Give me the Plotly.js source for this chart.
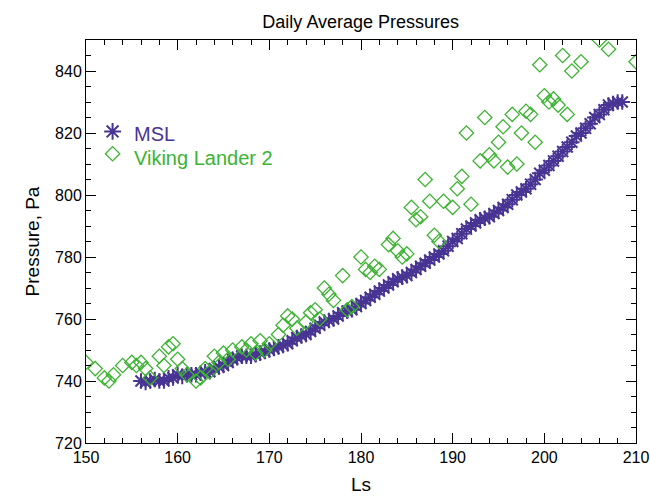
<!DOCTYPE html>
<html>
<head>
<script src="https://cdn.plot.ly/plotly-3.0.1.min.js"></script>
</head>
<body style="margin:0">
<div id="chart" style="width:650px;height:501px"></div>
<script>
var msl_ls = [156,156.5,157,157.5,158,158.5,159,159.5,160,160.5,161,161.5,162,162.5,163,163.5,164,164.5,165,165.5,166,166.5,167,167.5,168,168.5,169,169.5,170,170.5,171,171.5,172,172.5,173,173.5,174,174.5,175,175.5,176,176.5,177,177.5,178,178.5,179,179.5,180,180.5,181,181.5,182,182.5,183,183.5,184,184.5,185,185.5,186,186.5,187,187.5,188,188.5,189,189.5,190,190.5,191,191.5,192,192.5,193,193.5,194,194.5,195,195.5,196,196.5,197,197.5,198,198.5,199,199.5,200,200.5,201,201.5,202,202.5,203,203.5,204,204.5,205,205.5,206,206.5,207,207.5,208,208.5];
var msl_p = [740,739.5,740,740.5,740,740,741,741,742,741.5,742,742,742,742.5,743,743,744,744.5,745,746,747,747.5,748,748,748,748.5,749,749.5,750,750.5,751,751.5,752,753,754,754.5,755,756,757,758,759,759.5,760,761,762,762.5,763,764,765,766,767,768,769,770,771,772,773,773.5,774,775,776,777,778,779,780,781,782,783.5,785,786,787.5,789,790,791,792,792.5,793,794,795,796,797,798.5,800,801,802,803.5,805,807,808,809.5,811,812.5,814,815.5,817,819,820,821.5,823,825,826,827.5,829,829.5,830,830];
var vl2_ls = [150,151,152,152.5,153,154,155,155.5,156,156.5,157,158,158.5,159,159.5,160,160.5,161,162,162.5,163,163.5,164,164.5,165,165.5,166,167,167.5,168,168.5,169,169.5,170,171,171.5,172,172.5,173,174,174.5,175,175.5,176,176.5,177,178,178.5,179,180,180.5,181,181.5,182,183,183.5,184,184.5,185,185.5,186,186.5,187,187.5,188,188.5,189,190,190.5,191,191.5,192,193,193.5,194,194.5,195,195.5,196,196.5,197,197.5,198,198.5,199,199.5,200,200.5,201,201.5,202,202.5,203,204,206,207,210];
var vl2_p = [746,744,741,740,742,745,746,745,746,744,741,748,745,751,752,747,744,742,740,741,744,743,748,746,749,747,750,751,750,752,749,753,750,752,755,758,761,760,757,759,762,763,760,770,768,766,774,763,764,780,776,775,777,776,784,786,782,780,781,796,792,793,805,798,787,785,798,796,802,806,820,797,811,825,813,811,817,822,809,826,810,820,827,826,817,842,832,830,831,829,845,826,840,843,850,847,843];

var purple = '#483593', green = '#3cb332';
var traces = [
  {x: msl_ls, y: msl_p, mode: 'lines+markers', line: {color: purple, width: 2},
   marker: {symbol: 'asterisk-open', size: 13, color: purple, line: {color: purple, width: 2}}},
  {x: vl2_ls, y: vl2_p, mode: 'markers',
   marker: {symbol: 'diamond-open', size: 11, color: green, line: {color: green, width: 1.3}}},
  {x: [152.9], y: [820.5], mode: 'markers',
   marker: {symbol: 'asterisk-open', size: 14, color: purple, line: {color: purple, width: 2}}},
  {x: [152.9], y: [813.3], mode: 'markers',
   marker: {symbol: 'diamond-open', size: 11, color: green, line: {color: green, width: 1.3}}}
];
var axisBase = {showgrid: false, zeroline: false, showline: true, linecolor: '#000', linewidth: 1,
  mirror: 'ticks', ticks: 'inside', ticklen: 10, tickcolor: '#000',
  tickfont: {size: 16, color: '#000'}};
var layout = {
  width: 650, height: 501, showlegend: false,
  font: {family: 'Liberation Sans, Arial, sans-serif', color: '#000'},
  margin: {l: 86, r: 14, t: 40, b: 58},
  paper_bgcolor: '#fff', plot_bgcolor: '#fff',
  title: {text: 'Daily Average Pressures', font: {size: 18}, x: 0.555, xanchor: 'center', y: 0.97},
  xaxis: Object.assign({}, axisBase, {range: [150, 210], dtick: 10, minor: {dtick: 2, ticks: 'inside', ticklen: 5, tickcolor: '#000'},
    title: {text: 'Ls', font: {size: 19}, standoff: 12}}),
  yaxis: Object.assign({}, axisBase, {range: [720, 850], tickvals: [720,740,760,780,800,820,840], minor: {dtick: 5, ticks: 'inside', ticklen: 5, tickcolor: '#000'},
    title: {text: 'Pressure, Pa', font: {size: 19}, standoff: 10}}),
  annotations: [
    {xref: 'paper', yref: 'paper', x: 0.083, y: 0.8, xanchor: 'left', text: 'MSL', showarrow: false, font: {size: 20, color: purple}},
    {xref: 'paper', yref: 'paper', x: 0.083, y: 0.74, xanchor: 'left', text: 'Viking Lander 2', showarrow: false, font: {size: 20, color: green}}
  ]
};
Plotly.newPlot('chart', traces, layout, {displayModeBar: false});
</script>
</body>
</html>
